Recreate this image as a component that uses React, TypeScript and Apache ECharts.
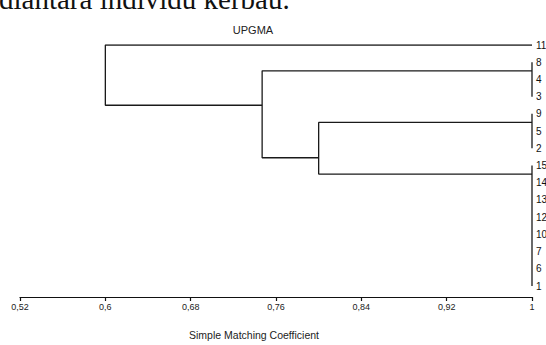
import React, { useEffect, useRef } from "react";
import * as echarts from "echarts";

// Leaf labels, top to bottom
const leaves = ["11", "8", "4", "3", "9", "5", "2", "15", "14", "13", "12", "10", "7", "6", "1"];
// Tie clusters joined at similarity 1 (first / last leaf row)
const tieFirst = [1, 4, 7];
const tieLast = [3, 6, 14];
// Internal nodes: similarity level, and children rows/levels
const nodeSim = [0.6, 0.747, 0.8];
const childARow = [0, 1.5, 4.5];
const childALevel = [1, 1, 1];
const childBRow = [3.5, 6.55, 7.5];
const childBLevel = [0.747, 0.8, 1];
// Axis
const axisMin = 0.52;
const axisStep = 0.08;
const tickLabels = ["0,52", "0,6", "0,68", "0,76", "0,84", "0,92", "1"];

const toX = (s: number) => (s - axisMin) / axisStep;

export default function App() {
  const ref = useRef<HTMLDivElement>(null);
  useEffect(() => {
    if (!ref.current) return;
    const chart = echarts.init(ref.current, null, { renderer: "svg" });
    const lineColor = "#1a1a1a";
    const series: any[] = [];
    tieFirst.forEach((f, i) => {
      series.push({
        type: "line",
        data: [
          [toX(1), f],
          [toX(1), tieLast[i]],
        ],
        showSymbol: false,
        silent: true,
        lineStyle: { color: lineColor, width: 1.3 },
      });
    });
    nodeSim.forEach((s, i) => {
      series.push({
        type: "line",
        data: [
          [toX(childALevel[i]), childARow[i]],
          [toX(s), childARow[i]],
          [toX(s), childBRow[i]],
          [toX(childBLevel[i]), childBRow[i]],
        ],
        showSymbol: false,
        silent: true,
        lineStyle: { color: lineColor, width: 1.3 },
      });
    });
    chart.setOption({
      animation: false,
      grid: { left: 20, right: 14, top: 45, bottom: 59, outerBoundsMode: "none", containLabel: false },
      xAxis: {
        type: "value",
        min: 0,
        max: 6,
        interval: 1,
        offset: 11,
        position: "bottom",
        axisLine: { show: true, onZero: false, lineStyle: { color: "#111", width: 1.2 } },
        axisTick: { show: true, length: 4, lineStyle: { color: "#111", width: 1.2 } },
        splitLine: { show: false },
        axisLabel: {
          margin: 5,
          fontSize: 9,
          color: "#222",
          fontFamily: "Liberation Sans, Arial, sans-serif",
          formatter: (v: number) => tickLabels[Math.round(v)] ?? "",
        },
      },
      yAxis: {
        type: "value",
        inverse: true,
        min: 0,
        max: 14,
        interval: 1,
        position: "right",
        axisLine: { show: false, onZero: false },
        axisTick: { show: false },
        splitLine: { show: false },
        axisLabel: {
          margin: 4,
          fontSize: 10,
          color: "#111",
          fontFamily: "Liberation Sans, Arial, sans-serif",
          formatter: (v: number) => leaves[Math.round(v)] ?? "",
        },
      },
      graphic: [
        {
          type: "text",
          left: -1,
          top: -16,
          style: {
            text: "diantara individu kerbau.",
            font: "29px 'Liberation Serif', 'Times New Roman', serif",
            fill: "#111",
          },
        },
        {
          type: "text",
          x: 253,
          y: 30,
          style: {
            text: "UPGMA",
            font: "11px 'Liberation Sans', Arial, sans-serif",
            fill: "#222",
            textAlign: "center",
            textVerticalAlign: "middle",
          },
        },
        {
          type: "text",
          x: 254,
          y: 335,
          style: {
            text: "Simple Matching Coefficient",
            font: "10.5px 'Liberation Sans', Arial, sans-serif",
            fill: "#222",
            textAlign: "center",
            textVerticalAlign: "middle",
          },
        },
      ],
      series,
    });
    return () => chart.dispose();
  }, []);
  return <div ref={ref} style={{ width: 546, height: 345, position: "absolute", left: 0, top: 0 }} />;
}
